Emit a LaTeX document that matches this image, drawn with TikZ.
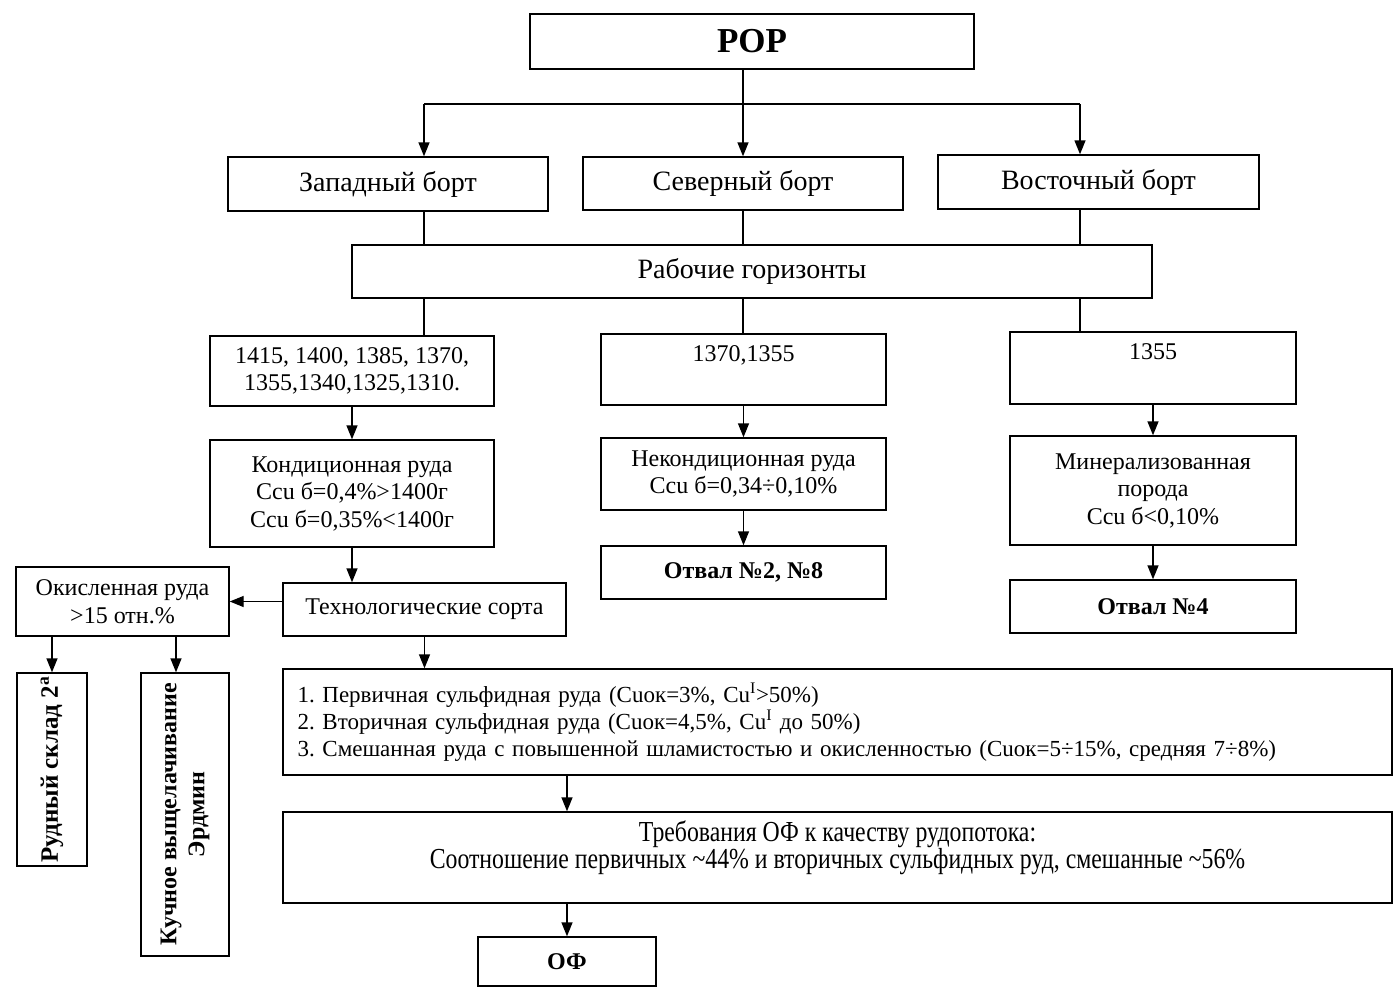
\documentclass[tikz,border=0pt]{standalone}
\usepackage{fontspec}
\setmainfont{Liberation Serif}
\newfontfamily\narrowfont[FakeStretch=0.82]{Liberation Serif}
\usetikzlibrary{arrows.meta}
\frenchspacing
\begin{document}
\begin{tikzpicture}[x=1pt,y=-1pt,
  box/.style={draw, line width=1.4pt, inner sep=0pt, align=center},
  arr/.style={line width=1.4pt, -{Triangle[length=14pt,width=11pt]}},
  ln/.style={line width=1.4pt},
  tA/.style={font=\fontsize{28}{30}\selectfont},
  tB/.style={font=\fontsize{24}{27.5}\selectfont},
  tC/.style={font=\fontsize{23}{27}\selectfont},
  tBold/.style={font=\fontsize{24}{28}\selectfont\bfseries},
  lbl/.style={inner sep=0pt, align=center}]
\useasboundingbox (0,0) rectangle (1393,988);
% nodes
\node[box, minimum width=444pt, minimum height=55pt, font=\fontsize{35}{40}\selectfont\bfseries] (pop) at (752,41.5) {РОР};
\node[box, tA, minimum width=320pt, minimum height=54pt] (zap) at (388,184) {Западный борт};
\node[box, tA, minimum width=320pt, minimum height=53pt] (sev) at (743,183.5) {Северный борт};
\node[box, tA, minimum width=321pt, minimum height=54pt] (vos) at (1098.5,182) {Восточный борт};
\node[box, tA, minimum width=800pt, minimum height=53pt] (rab) at (752,271.5) {Рабочие горизонты};
\node[box, tB, minimum width=284pt, minimum height=70pt] (h1) at (352,371) {1415, 1400, 1385, 1370,\\1355,1340,1325,1310.};
\node[box, minimum width=285pt, minimum height=71pt,
  label={[lbl, tB, anchor=north, yshift=-12pt]north:1370,1355}] (h2) at (743.5,369.5) {};
\node[box, minimum width=286pt, minimum height=72pt,
  label={[lbl, tB, anchor=north, yshift=-12pt]north:1355}] (h3) at (1153,368) {};
\node[box, tB, minimum width=284pt, minimum height=107pt] (kon) at (352,493.5) {Кондиционная руда\\Ccu б=0,4\%>1400г\\Ccu б=0,35\%<1400г};
\node[box, tB, minimum width=285pt, minimum height=72pt] (nekon) at (743.5,474) {Некондиционная руда\\Ccu б=0,34÷0,10\%};
\node[box, tB, minimum width=286pt, minimum height=109pt] (min) at (1153,490.5) {Минерализованная\\порода\\Ccu б<0,10\%};
\node[box, tB, minimum width=283pt, minimum height=53pt] (tech) at (424.5,609.5) {Технологические сорта};
\node[box, tBold, minimum width=285pt, minimum height=53pt] (otv28) at (743.5,572.5) {Отвал №2, №8};
\node[box, tBold, minimum width=286pt, minimum height=53pt] (otv4) at (1153,606.5) {Отвал №4};
\node[box, tB, minimum width=213pt, minimum height=69pt] (ok) at (122.5,601.5) {Окисленная руда\\>15 отн.\%};
\node[box, minimum width=70pt, minimum height=193pt,
  label={[lbl, font=\fontsize{25}{28}\selectfont\bfseries, rotate=90]center:Рудный склад 2\textsuperscript{а}}] (rud) at (52,769.5) {};
\node[box, minimum width=88pt, minimum height=283pt,
  label={[lbl, tBold, rotate=90]center:Кучное выщелачивание\\Эрдмин}] (kuch) at (185,814.5) {};
\node[box, tC, minimum width=1109pt, minimum height=106pt, text width=1080pt, align=left] (list) at (837.5,722)
 {1. Первичная сульфидная руда (Cuок=3\%, Cu\textsuperscript{I}>50\%)\\
  2. Вторичная сульфидная руда (Cuок=4,5\%, Cu\textsuperscript{I} до 50\%)\\
  3. Смешанная руда с повышенной шламистостью и окисленностью (Cuок=5÷15\%, средняя 7÷8\%)};
\node[box, minimum width=1109pt, minimum height=91pt,
  label={[lbl, font=\fontsize{29}{27}\narrowfont, yshift=10pt]center:Требования ОФ к качеству рудопотока:\\Соотношение первичных \textasciitilde44\% и вторичных сульфидных руд, смешанные \textasciitilde56\%}] (treb) at (837.5,857.5) {};
\node[box, tBold, minimum width=178pt, minimum height=49pt] (of) at (567,961.5) {ОФ};
% helper coordinates
\coordinate (cL) at (424,0);
\coordinate (cR) at (1080,0);
\coordinate (bus) at (0,104);
\coordinate (okL) at (52,0);
\coordinate (okR) at (176,0);
% connectors
\draw[arr] (pop.south -| sev.north) -- (sev.north);
\draw[ln] (bus -| cL) -- (bus -| cR);
\draw[arr] (bus -| cL) -- (zap.north -| cL);
\draw[arr] (bus -| cR) -- (vos.north -| cR);
\draw[ln] (zap.south -| cL) -- (rab.north -| cL);
\draw[ln] (sev.south) -- (rab.north -| sev.south);
\draw[ln] (vos.south -| cR) -- (rab.north -| cR);
\draw[ln] (rab.south -| cL) -- (h1.north -| cL);
\draw[ln] (rab.south -| sev.south) -- (h2.north -| sev.south);
\draw[ln] (rab.south -| cR) -- (h3.north -| cR);
\draw[arr] (h1.south) -- (kon.north);
\draw[arr] (h2.south) -- (nekon.north);
\draw[arr] (h3.south) -- (min.north);
\draw[arr] (kon.south) -- (kon.south |- tech.north);
\draw[arr] (nekon.south) -- (otv28.north);
\draw[arr] (min.south) -- (otv4.north);
\draw[arr] (tech.west |- ok.east) -- (ok.east);
\draw[arr] (ok.south -| okL) -- (rud.north -| okL);
\draw[arr] (ok.south -| okR) -- (kuch.north -| okR);
\draw[arr] (tech.south) -- (tech.south |- list.north);
\draw[arr] (of.north |- list.south) -- (of.north |- treb.north);
\draw[arr] (of.north |- treb.south) -- (of.north);
\end{tikzpicture}
\end{document}
